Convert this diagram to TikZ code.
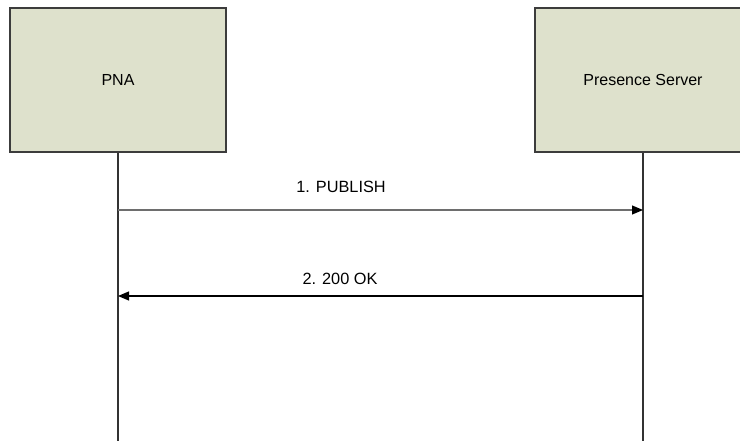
\documentclass[tikz,border=0pt]{standalone}
\usepackage{fontspec}
\setmainfont{Liberation Sans}
\usetikzlibrary{arrows.meta}
\definecolor{boxfill}{RGB}{222,225,204}
\definecolor{boxline}{RGB}{60,60,60}
\definecolor{msggray}{RGB}{110,110,110}
\tikzset{
  actor/.style={draw=boxline, fill=boxfill, line width=1.1pt, minimum width=216pt,
    minimum height=144pt, inner sep=0pt, font=\fontsize{16}{19}\selectfont},
  lifeline/.style={draw=black!80, line width=1.1pt},
  msg/.style={line width=1.1pt, -{Triangle[length=11pt,width=9pt]}},
  msglabel/.style={font=\fontsize{16.3}{19}\selectfont, inner sep=0pt}
}
\begin{document}
\begin{tikzpicture}[x=1pt,y=-1pt]
  \useasboundingbox (0,0) rectangle (740,440);
  \clip (0,0) rectangle (740,440);
  % participants
  \node[actor] (pna) at (118,80) {PNA};
  \node[actor] (ps) at (643,80) {Presence Server};
  % lifeline ends and message anchors
  \coordinate (pnaend) at (118,441);
  \coordinate (psend) at (643,441);
  \coordinate (m1from) at (118,210);
  \coordinate (m1to) at (643,210);
  \coordinate (m2from) at (643,296);
  \coordinate (m2to) at (118,296);
  \draw[lifeline] (pna.south) -- (pnaend);
  \draw[lifeline] (ps.south) -- (psend);
  % messages
  \draw[msg, draw=msggray, -{Triangle[length=11pt,width=9pt,fill=black,color=black]}] (m1from) -- (m1to);
  \draw[msg, draw=black] (m2from) -- (m2to);
  \node[msglabel] (l1) at (341,187) {1. PUBLISH};
  \node[msglabel] (l2) at (340,279) {2. 200 OK};
\end{tikzpicture}
\end{document}
